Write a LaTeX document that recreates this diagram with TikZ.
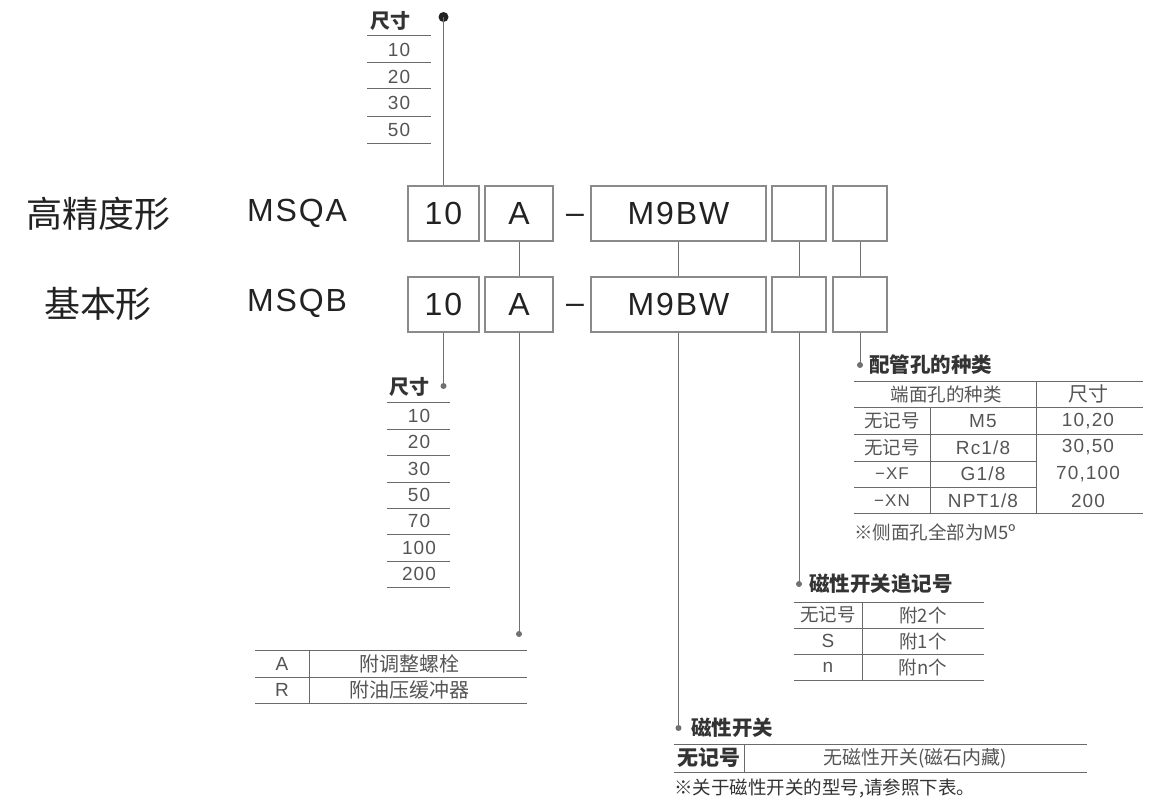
\documentclass[tikz,border=0pt]{standalone}
\usepackage{fontspec}
\setmainfont{Liberation Sans}
\newfontfamily\cjk{Noto Sans CJK SC}
\newfontfamily\wide{Liberation Sans}[LetterSpace=6]
\newfontfamily\numf{Liberation Sans}[LetterSpace=6]
\definecolor{linec}{HTML}{707070}
\definecolor{boxc}{HTML}{8A8A8A}
\definecolor{rulec}{HTML}{6A6A6A}
\definecolor{txt}{HTML}{222222}
\definecolor{celltxt}{HTML}{555555}
\definecolor{titletxt}{HTML}{333333}
\tikzset{
  box/.style={draw=boxc, line width=1.1pt, minimum height=55pt, inner sep=0pt, font=\wide\fontsize{32}{32}\selectfont, text=txt},
  dot/.style={circle, fill=linec, inner sep=0pt, minimum size=6pt},
  bigdot/.style={circle, fill=txt, inner sep=0pt, minimum size=10pt},
  conn/.style={draw=linec, line width=1pt},
  rule/.style={draw=rulec, line width=1pt},
  cell/.style={font=\cjk\fontsize{18.5}{18.5}\selectfont, text=celltxt, inner sep=0pt},
  num/.style={font=\numf\fontsize{19}{19}\selectfont, text=celltxt, inner sep=0pt},
  sizehead/.style={font=\cjk\bfseries\fontsize{20}{20}\selectfont, text=titletxt, inner sep=0pt},
  title/.style={font=\cjk\bfseries\fontsize{20.5}{20.5}\selectfont, text=titletxt, anchor=west, inner sep=0pt},
  biglabel/.style={font=\cjk\fontsize{36}{36}\selectfont, text=txt, inner sep=0pt},
  model/.style={font=\wide\fontsize{32}{32}\selectfont, text=txt, inner sep=0pt},
  dashtxt/.style={font=\fontsize{32}{32}\selectfont, text=txt, inner sep=0pt},
}
\begin{document}
\begin{tikzpicture}[x=1pt,y=-1pt]
\useasboundingbox (0,0) rectangle (1152,800);

% left labels
\node[biglabel] (l1) at (99,214) {高精度形};
\node[biglabel] (l2) at (98,304) {基本形};
\node[model] (m1) at (297,213) {MSQA};
\node[model] (m2) at (297,303) {MSQB};

% top row boxes
\node[box, minimum width=71pt] (t10) at (443.5,213.5) {10};
\node[box, minimum width=68pt] (tA) at (519,213.5) {A};
\node[dashtxt] (td) at (575,219) {–};
\node[box, minimum width=175pt] (tM) at (678.5,213.5) {M9BW};
\node[box, minimum width=54pt] (te1) at (799,213.5) {};
\node[box, minimum width=54pt] (te2) at (860,213.5) {};

% bottom row boxes
\node[box, minimum width=71pt] (b10) at (443.5,304.5) {10};
\node[box, minimum width=68pt] (bA) at (519,304.5) {A};
\node[dashtxt] (bd) at (575,309) {–};
\node[box, minimum width=175pt] (bM) at (678.5,304.5) {M9BW};
\node[box, minimum width=54pt] (be1) at (799,304.5) {};
\node[box, minimum width=54pt] (be2) at (860,304.5) {};

% dots
\node[bigdot] (dTop) at (443.5,17) {};
\node[dot] (dSize) at (443.5,386) {};
\node[dot] (dA) at (519,634) {};
\node[dot] (dPort) at (860,365) {};
\node[dot] (dSw) at (799,584) {};
\node[dot] (dMag) at (678.5,728) {};

% connectors
\draw[conn] (dTop.center) -- (t10.north);
\draw[conn] (tA.south) -- (bA.north);
\draw[conn] (tM.south) -- (bM.north);
\draw[conn] (te1.south) -- (be1.north);
\draw[conn] (te2.south) -- (be2.north);
\draw[conn] (b10.south) -- (dSize.center);
\draw[conn] (bA.south) -- (dA.center);
\draw[conn] (bM.south) -- (dMag.center);
\draw[conn] (be1.south) -- (dSw.center);
\draw[conn] (be2.south) -- (dPort.center);

% top size table
\node[sizehead] (ts0) at (390,21) {尺寸};
\foreach \yy in {36,63,89,116,143} \draw[rule] (367,\yy) -- (431,\yy);
\node[num] (ts1) at (399,50) {10};
\node[num] (ts2) at (399,76.5) {20};
\node[num] (ts3) at (399,103) {30};
\node[num] (ts4) at (399,129.5) {50};

% lower size table
\node[sizehead] (bs0) at (409,387) {尺寸};
\foreach \yy in {402,429,455,482,508,534,561,587} \draw[rule] (387,\yy) -- (450,\yy);
\node[num] (bs1) at (419,415.5) {10};
\node[num] (bs2) at (419,442) {20};
\node[num] (bs3) at (419,468.5) {30};
\node[num] (bs4) at (419,495) {50};
\node[num] (bs5) at (419,521) {70};
\node[num] (bs6) at (419,547.5) {100};
\node[num] (bs7) at (419,574) {200};

% A / R table
\foreach \yy in {650,677,703} \draw[rule] (255,\yy) -- (527,\yy);
\draw[rule] (309,650) -- (309,703);
\node[num] (arA) at (282,663.5) {A};
\node[num] (arR) at (282,690) {R};
\node[cell, font=\cjk\fontsize{20}{20}\selectfont] (arA2) at (409,663.5) {附调整螺栓};
\node[cell, font=\cjk\fontsize{20}{20}\selectfont] (arR2) at (409,690) {附油压缓冲器};

% port table
\node[title] (pt) at (869,365) {配管孔的种类};
\draw[rule] (854,381) -- (1143,381);
\draw[rule] (854,407) -- (1143,407);
\draw[rule] (854,434) -- (1143,434);
\draw[rule] (854,461) -- (1036,461);
\draw[rule] (854,487) -- (1036,487);
\draw[rule] (854,513) -- (1143,513);
\draw[rule] (1036,381) -- (1036,513);
\draw[rule] (930,407) -- (930,513);
\node[cell] (ph1) at (946,394) {端面孔的种类};
\node[cell, font=\cjk\fontsize{20}{20}\selectfont] (ph2) at (1088,394) {尺寸};
\node[cell] (p11) at (892,421) {无记号};
\node[num] (p12) at (983,421) {M5};
\node[num] (p13) at (1088,421) {10,20};
\node[cell] (p21) at (892,447.5) {无记号};
\node[num] (p22) at (983,447.5) {Rc1/8};
\node[num] (p23) at (1088,447.5) {30,50};
\node[num, font=\numf\fontsize{17}{17}\selectfont] (p31) at (892,474) {−XF};
\node[num] (p32) at (983,474) {G1/8};
\node[num] (p33) at (1088,474) {70,100};
\node[num, font=\numf\fontsize{17}{17}\selectfont] (p41) at (892,500.5) {−XN};
\node[num] (p42) at (983,500.5) {NPT1/8};
\node[num] (p43) at (1088,500.5) {200};
\node[cell, anchor=west] (pnote) at (854,532) {※侧面孔全部为M5º};

% switch suffix table
\node[title] (st) at (809,584) {磁性开关追记号};
\foreach \yy in {602,628,654,680} \draw[rule] (794,\yy) -- (984,\yy);
\draw[rule] (862,602) -- (862,680);
\node[cell] (s11) at (828,615) {无记号};
\node[cell] (s12) at (923,615) {附2个};
\node[num] (s21) at (828,641) {S};
\node[cell] (s22) at (923,641) {附1个};
\node[num] (s31) at (828,667) {n};
\node[cell] (s32) at (923,667) {附n个};

% magnetic switch table
\node[title] (mt) at (691,728) {磁性开关};
\draw[rule] (674,744) -- (1087,744);
\draw[rule] (674,772) -- (1087,772);
\draw[rule] (744,744) -- (744,772);
\node[sizehead, font=\cjk\bfseries\fontsize{21}{21}\selectfont] (m11) at (709,758) {无记号};
\node[cell, font=\cjk\fontsize{19}{19}\selectfont] (m12) at (915,758) {无磁性开关(磁石内藏)};
\node[cell, anchor=west, font=\cjk\fontsize{18.5}{18.5}\selectfont, text=titletxt] (mnote) at (674,788) {※关于磁性开关的型号,请参照下表。};
\end{tikzpicture}
\end{document}
